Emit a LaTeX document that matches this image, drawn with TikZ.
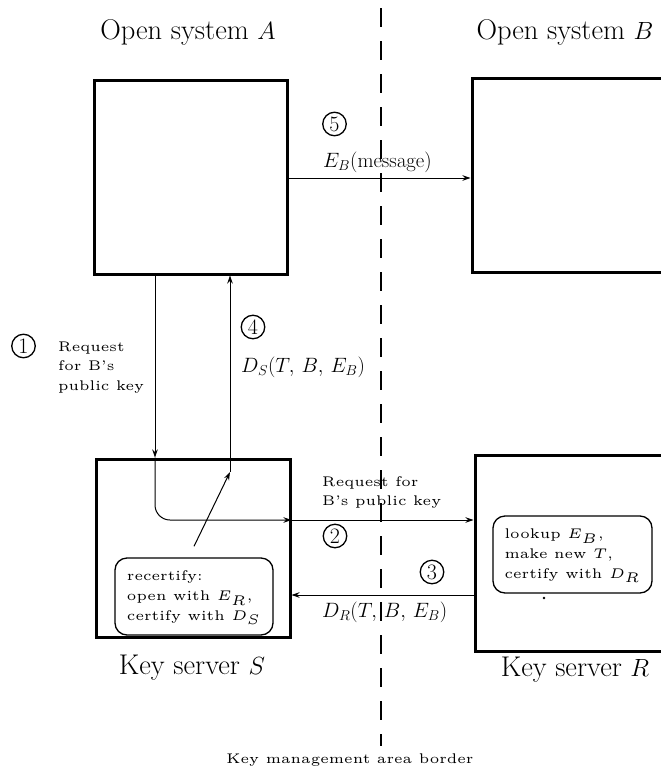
\documentclass[tikz,border=0pt]{standalone}
\usetikzlibrary{arrows.meta}
\usepackage{graphicx}
\newcommand\smtxt[1]{\scalebox{2.8}{\fontsize{5}{7}\selectfont\begin{tabular}{@{}l@{}}#1\end{tabular}}}
\begin{document}
\begin{tikzpicture}[x=1pt,y=-1pt,
  box/.style={draw, line width=3pt, rectangle, inner sep=0pt},
  conn/.style={line width=1pt, -{Stealth[length=8pt,width=5.5pt]}},
  title/.style={font=\fontsize{28.5}{33}\selectfont, inner sep=0pt},
  num/.style={circle, draw, line width=1.3pt, minimum size=23.5pt, inner sep=0pt, font=\fontsize{22}{22}\selectfont},
  lbl/.style={inner sep=0pt, anchor=west, font=\fontsize{19.5}{24}\selectfont},
  sm/.style={inner sep=0pt, anchor=west},
  rbox/.style={draw, line width=1.3pt, rounded corners=12pt, inner sep=0pt},
  border/.style={line width=1.2pt, dash pattern=on 19pt off 14pt}]
\useasboundingbox (0,0) rectangle (661,771);
\clip (0,0) rectangle (661,771);
% boxes
\node[box, minimum width=193pt, minimum height=194pt] (A) at (190.5,177) {};
\node[box, minimum width=240pt, minimum height=194pt] (B) at (592,175) {};
\node[box, minimum width=194pt, minimum height=178pt] (S) at (193,548) {};
\node[box, minimum width=240pt, minimum height=196pt] (R) at (595,553) {};
% titles
\node[title] (tA) at (188,32) {Open system $A$};
\node[title] (tB) at (565,32) {Open system $B$};
\node[title] (tS) at (192,668) {Key server $S$};
\node[title] (tR) at (575,670) {Key server $R$};
% border line
\coordinate (bt) at (381,8);
\coordinate (bb) at (381,746);
\draw[border] (bt) -- (bb);
\node[sm, anchor=center] (kmab) at (350,760) {\smtxt{Key management area border}};
% inner boxes
\node[rbox, minimum width=158pt, minimum height=77pt] (rc) at (194,596.5) {\smtxt{recertify:\\open with $E_R$,\\certify with $D_S$}};
\node[rbox, minimum width=159pt, minimum height=77pt] (lk) at (572.5,554.5) {\smtxt{lookup $E_B$,\\make new $T$,\\certify with $D_R$}};
\fill (544,598) circle (1.3pt);
% labels
\node[sm] (req1) at (58,367) {\smtxt{Request\\for B's\\public key}};
\node[sm] (req2) at (322,492) {\smtxt{Request for\\B's public key}};
\node[lbl] (l4) at (241,367) {$D_S(T,\,B,\,E_B)$};
\node[lbl] (l3) at (322,612) {$D_R(T,\,B,\,E_B)$};
\node[lbl] (l5) at (323,162) {$E_B(\mathrm{message})$};
% numbers
\node[num] (n1) at (23.5,346) {1};
\node[num] (n2) at (335,536) {2};
\node[num] (n3) at (432,572) {3};
\node[num] (n4) at (253,327) {4};
\node[num] (n5) at (334.5,124) {5};
% connectors
\coordinate (x1) at (155,0);
\coordinate (x4) at (230,0);
\coordinate (y2) at (0,520);
\coordinate (y3) at (0,595);
\coordinate (y5) at (0,178);
\coordinate (j4) at (230,472);
\draw[conn] (A.south -| x1) -- (S.north -| x1);
\draw[conn, rounded corners=15pt] (S.north -| x1) -- (x1 |- y2) -- (S.east |- y2);
\draw[conn] (S.east |- y2) -- (R.west |- y2);
\draw[conn] (R.west |- y3) -- (S.east |- y3);
\draw[conn] (A.east |- y5) -- (B.west |- y5);
\draw[conn] ([yshift=11pt]rc.north) -- (j4);
\draw[conn] (j4) -- (A.south -| x4);
\end{tikzpicture}
\end{document}
